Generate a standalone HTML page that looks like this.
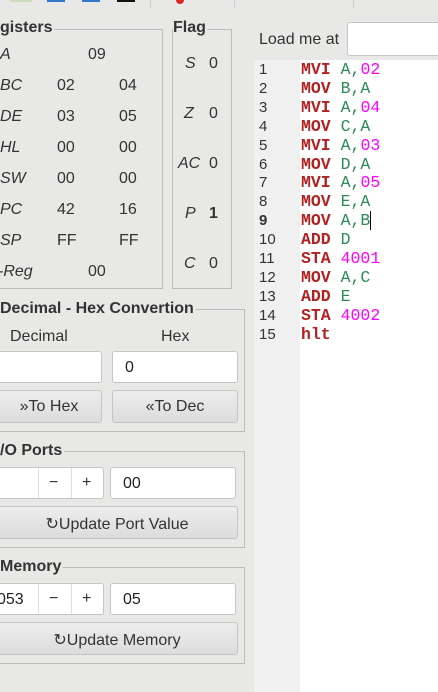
<html><head><style>
body{margin:0;width:438px;height:692px;background:#e8e8e7;font-family:"Liberation Sans",sans-serif;position:relative;overflow:hidden;color:#333}
.a{position:absolute}
.box{position:absolute;border:1px solid #bbb}
.lg{position:absolute;background:#e8e8e7;font-weight:bold;font-size:16px;color:#333;padding-right:2px}
.it{font-style:italic;font-size:16px}
.v{font-size:16px}
.inp{position:absolute;background:#fff;border:1px solid #c5c5c5;border-radius:3px;height:32px;box-sizing:border-box;font-size:16px;padding:7px 0 0 12px;color:#222}
.btn{position:absolute;background:linear-gradient(#ededed,#dcdcdc);border:1px solid #c5c5c5;border-radius:3px;height:33px;box-sizing:border-box;font-size:16px;text-align:center;padding-top:7px;color:#333}
.code{font-family:"Liberation Mono",monospace;font-size:16.5px;line-height:18.9px;white-space:pre}
.k{color:#b22222;font-weight:bold}.g{color:#2e8b57}.m{color:#f0f}
</style></head><body>
<div class="a" style="left:10px;top:0;width:22px;height:2px;background:#cdb"></div>
<div class="a" style="left:47px;top:0;width:18px;height:2px;background:#37c"></div>
<div class="a" style="left:82px;top:0;width:18px;height:2px;background:#37c"></div>
<div class="a" style="left:117px;top:0;width:18px;height:2px;background:#111"></div>
<div class="a" style="left:150px;top:0;width:1px;height:8px;background:#ccc"></div>
<div class="a" style="left:176px;top:0;width:8px;height:4px;border-radius:0 0 4px 4px;background:#d22"></div>
<div class="a" style="left:234px;top:0;width:1px;height:8px;background:#ccc"></div>
<div class="a" style="left:353px;top:0;width:1px;height:8px;background:#ccc"></div>

<div class="box" style="left:-2px;top:29px;width:163px;height:258px"></div>
<div class="lg" style="left:0;top:19px">gisters</div>
<div class="a it" style="left:0;top:46px">A</div><div class="a v" style="left:88px;top:46px">09</div>
<div class="a it" style="left:0;top:77px">BC</div><div class="a v" style="left:57px;top:77px">02</div><div class="a v" style="left:119px;top:77px">04</div>
<div class="a it" style="left:0;top:108px">DE</div><div class="a v" style="left:57px;top:108px">03</div><div class="a v" style="left:119px;top:108px">05</div>
<div class="a it" style="left:0;top:139px">HL</div><div class="a v" style="left:57px;top:139px">00</div><div class="a v" style="left:119px;top:139px">00</div>
<div class="a it" style="left:0;top:170px">SW</div><div class="a v" style="left:57px;top:170px">00</div><div class="a v" style="left:119px;top:170px">00</div>
<div class="a it" style="left:0;top:201px">PC</div><div class="a v" style="left:57px;top:201px">42</div><div class="a v" style="left:119px;top:201px">16</div>
<div class="a it" style="left:0;top:232px">SP</div><div class="a v" style="left:57px;top:232px">FF</div><div class="a v" style="left:119px;top:232px">FF</div>
<div class="a it" style="left:-2px;top:263px">-Reg</div><div class="a v" style="left:88px;top:263px">00</div>

<div class="box" style="left:172px;top:29px;width:58px;height:258px"></div>
<div class="lg" style="left:173px;top:19px">Flag</div>
<div class="a it" style="left:185px;top:55px">S</div><div class="a v" style="left:209px;top:55px">0</div>
<div class="a it" style="left:184px;top:105px">Z</div><div class="a v" style="left:209px;top:105px">0</div>
<div class="a it" style="left:178px;top:155px">AC</div><div class="a v" style="left:209px;top:155px">0</div>
<div class="a it" style="left:185px;top:205px">P</div><div class="a v" style="left:209px;top:205px;font-weight:bold">1</div>
<div class="a it" style="left:184px;top:255px">C</div><div class="a v" style="left:209px;top:255px">0</div>

<div class="box" style="left:-2px;top:309px;width:245px;height:121px"></div>
<div class="lg" style="left:0;top:300px">Decimal - Hex Convertion</div>
<div class="a v" style="left:10px;top:328px">Decimal</div><div class="a v" style="left:161px;top:328px">Hex</div>
<div class="inp" style="left:-4px;top:351px;width:106px"></div>
<div class="inp" style="left:112px;top:351px;width:126px">0</div>
<div class="btn" style="left:-4px;top:390px;width:106px">»To Hex</div>
<div class="btn" style="left:112px;top:390px;width:126px">«To Dec</div>

<div class="box" style="left:-2px;top:451px;width:245px;height:95px"></div>
<div class="lg" style="left:0;top:442px">/O Ports</div>
<div class="inp" style="left:-4px;top:467px;width:108px;padding:0"></div>
<div class="a" style="left:38px;top:468px;width:1px;height:30px;background:#ddd"></div>
<div class="a" style="left:71px;top:468px;width:1px;height:30px;background:#ddd"></div>
<div class="a v" style="left:49px;top:474px">−</div><div class="a v" style="left:82px;top:474px">+</div>
<div class="inp" style="left:110px;top:467px;width:126px">00</div>
<div class="btn" style="left:-4px;top:506px;width:242px">↻Update Port Value</div>

<div class="box" style="left:-2px;top:567px;width:245px;height:95px"></div>
<div class="lg" style="left:0;top:558px">Memory</div>
<div class="inp" style="left:-4px;top:583px;width:108px;padding:7px 0 0 0">053</div>
<div class="a" style="left:38px;top:584px;width:1px;height:30px;background:#ddd"></div>
<div class="a" style="left:71px;top:584px;width:1px;height:30px;background:#ddd"></div>
<div class="a v" style="left:49px;top:590px">−</div><div class="a v" style="left:82px;top:590px">+</div>
<div class="inp" style="left:110px;top:583px;width:126px">05</div>
<div class="btn" style="left:-4px;top:622px;width:242px">↻Update Memory</div>

<div class="a v" style="left:259px;top:31px;font-size:16px">Load me at</div>
<div class="inp" style="left:347px;top:22px;width:100px;height:34px"></div>
<div class="a" style="left:254px;top:60px;width:46px;height:632px;background:#f0f0f0"></div>
<div class="a" style="left:300px;top:60px;width:138px;height:632px;background:#fff"></div>
<div class="a code" style="left:259px;top:61px;color:#333;font-family:'Liberation Sans',sans-serif;font-size:15px">1
2
3
4
5
6
7
8
<b>9</b>
10
11
12
13
14
15</div>
<div class="a code" style="left:301px;top:61px"><span class="k">MVI</span> <span class="g">A,</span><span class="m">02</span>
<span class="k">MOV</span> <span class="g">B,A</span>
<span class="k">MVI</span> <span class="g">A,</span><span class="m">04</span>
<span class="k">MOV</span> <span class="g">C,A</span>
<span class="k">MVI</span> <span class="g">A,</span><span class="m">03</span>
<span class="k">MOV</span> <span class="g">D,A</span>
<span class="k">MVI</span> <span class="g">A,</span><span class="m">05</span>
<span class="k">MOV</span> <span class="g">E,A</span>
<span class="k">MOV</span> <span class="g">A,B</span><span style="border-left:1px solid #000"></span>
<span class="k">ADD</span> <span class="g">D</span>
<span class="k">STA</span> <span class="m">4001</span>
<span class="k">MOV</span> <span class="g">A,C</span>
<span class="k">ADD</span> <span class="g">E</span>
<span class="k">STA</span> <span class="m">4002</span>
<span class="k">hlt</span></div>
</body></html>
